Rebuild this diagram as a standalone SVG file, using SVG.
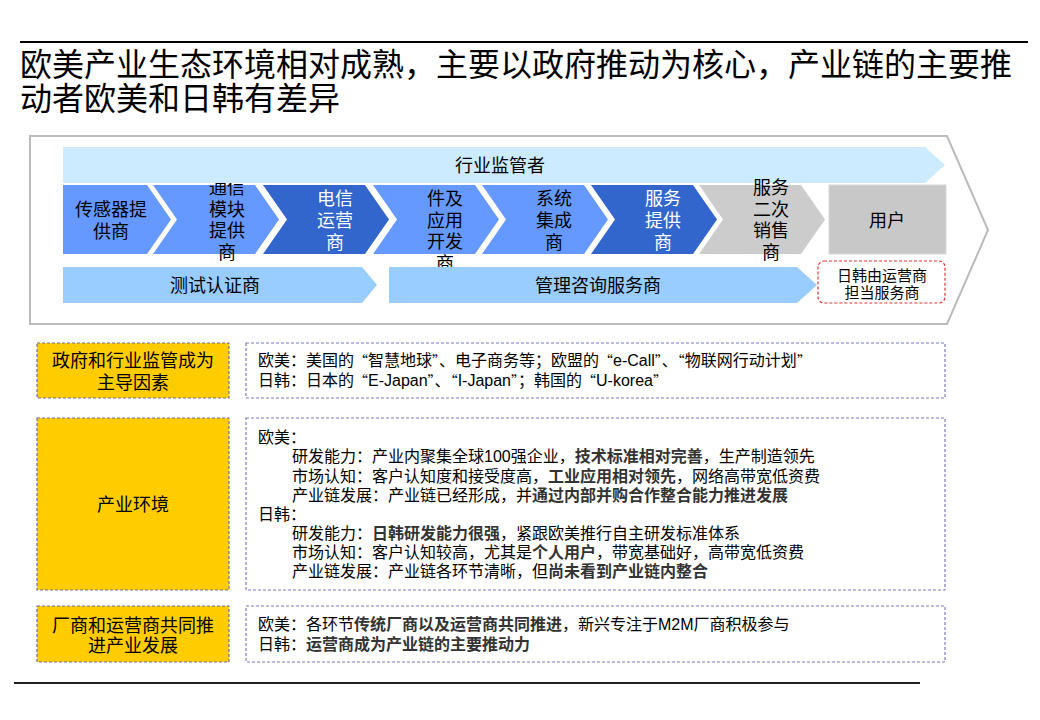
<svg xmlns="http://www.w3.org/2000/svg" width="1040" height="720" viewBox="0 0 1040 720">
<style>
text{font-family:"Liberation Sans","Noto Sans CJK SC",sans-serif;}
.t18{font-size:18px;fill:#000;text-anchor:middle;}
.w18{font-size:18px;fill:#fff;text-anchor:middle;}
.title{font-size:32px;fill:#000;}
.body{font-size:16px;fill:#000;}
.q{font-family:"Noto Sans CJK SC",sans-serif;font-size:14px;}
.b{font-weight:bold;fill:#333;}
.lb{fill:#6699FF;}
.db{fill:#3366CC;}
.gr{fill:#CCCCCC;}
.ban{fill:#99CCFF;}
.yel{fill:#FFCC00;stroke:#6F6FA8;stroke-width:1.2;stroke-dasharray:3,2;}
.box{fill:#fff;stroke:#7B7BC0;stroke-width:1.2;stroke-dasharray:3,2;}
</style>
<rect x="0" y="0" width="1040" height="720" fill="#fff"/>
<g id="title">
<line x1="20" y1="42" x2="1028" y2="42" stroke="#000" stroke-width="2"/>
<text class="title" x="20" y="76">欧美产业生态环境相对成熟，主要以政府推动为核心，产业链的主要推</text>
<text class="title" x="20" y="110">动者欧美和日韩有差异</text>
</g>
<g id="frame">
<polygon points="30,136 947,136 988,230 947,324 30,324" fill="#fff" stroke="#BBBBBB" stroke-width="2"/>
</g>
<g id="connectors"></g>
<g id="n-sensor">
<polygon class="lb" points="63,185 147,185 171,219.5 147,254 63,254"/>
<text class="t18" x="111" y="216">传感器提</text>
<text class="t18" x="111" y="238">供商</text>
</g>
<g id="n-module">
<polygon class="lb" points="153,185 255,185 279,219.5 255,254 153,254 177,219.5"/>
<text class="t18" x="227" y="194">通信</text>
<text class="t18" x="227" y="216">模块</text>
<text class="t18" x="227" y="237">提供</text>
<text class="t18" x="227" y="259">商</text>
</g>
<g id="n-operator">
<polygon class="db" points="263,185 365,185 389,219.5 365,254 263,254 287,219.5"/>
<text class="w18" x="335" y="205">电信</text>
<text class="w18" x="335" y="227">运营</text>
<text class="w18" x="335" y="249">商</text>
</g>
<g id="n-middleware">
<polygon class="lb" points="373,185 475,185 499,219.5 475,254 373,254 397,219.5"/>
<text class="t18" x="445" y="205">件及</text>
<text class="t18" x="445" y="227">应用</text>
<text class="t18" x="445" y="248">开发</text>
<text class="t18" x="445" y="270">商</text>
</g>
<g id="n-integrator">
<polygon class="lb" points="482,185 584,185 608,219.5 584,254 482,254 506,219.5"/>
<text class="t18" x="554" y="205">系统</text>
<text class="t18" x="554" y="227">集成</text>
<text class="t18" x="554" y="249">商</text>
</g>
<g id="n-service">
<polygon class="db" points="591,185 693,185 717,219.5 693,254 591,254 615,219.5"/>
<text class="w18" x="663" y="205">服务</text>
<text class="w18" x="663" y="227">提供</text>
<text class="w18" x="663" y="249">商</text>
</g>
<g id="n-regulator">
<polygon fill="#CCEBFF" points="63,147 925,147 945,165 925,183 63,183"/>
<text class="t18" x="500" y="172">行业监管者</text>
</g>
<g id="n-test">
<polygon class="ban" points="63,267 362,267 377,285 362,303 63,303"/>
<text class="t18" x="215" y="292">测试认证商</text>
</g>
<g id="n-consult">
<polygon class="ban" points="389,267 797,267 817,285 797,303 389,303"/>
<text class="t18" x="598" y="292">管理咨询服务商</text>
</g>
<g id="n-resale">
<polygon class="gr" points="699,185 801,185 825,219.5 801,254 699,254 723,219.5"/>
<text class="t18" x="771" y="194">服务</text>
<text class="t18" x="771" y="216">二次</text>
<text class="t18" x="771" y="237">销售</text>
<text class="t18" x="771" y="259">商</text>
</g>
<g id="n-user">
<rect x="829" y="185" width="117" height="69" fill="#C8C8C8" stroke="#D8D8D8" stroke-width="1"/>
<text class="t18" x="887" y="227">用户</text>
</g>
<g id="n-note">
<rect x="818" y="261" width="127" height="42" rx="6" fill="#fff" stroke="#E53333" stroke-width="1.2" stroke-dasharray="3,2"/>
<text x="882" y="281" style="font-size:15px;text-anchor:middle;fill:#000">日韩由运营商</text>
<text x="882" y="298" style="font-size:15px;text-anchor:middle;fill:#000">担当服务商</text>
</g>
<g id="row1">
<rect class="yel" x="37" y="343" width="192" height="55"/>
<text class="t18" x="133" y="367">政府和行业监管成为</text>
<text class="t18" x="133" y="389">主导因素</text>
<rect class="box" x="246" y="343" width="699" height="55"/>
<text class="body" x="258" y="366">欧美：美国的<tspan class="q">“</tspan>智慧地球<tspan class="q">”</tspan>、电子商务等；欧盟的<tspan class="q">“</tspan>e-Call<tspan class="q">”</tspan>、<tspan class="q">“</tspan>物联网行动计划<tspan class="q">”</tspan></text>
<text class="body" x="258" y="386">日韩：日本的<tspan class="q">“</tspan>E-Japan<tspan class="q">”</tspan>、<tspan class="q">“</tspan>I-Japan<tspan class="q">”</tspan>；韩国的<tspan class="q">“</tspan>U-korea<tspan class="q">”</tspan></text>
</g>
<g id="row2">
<rect class="yel" x="37" y="418" width="192" height="172"/>
<text class="t18" x="133" y="511">产业环境</text>
<rect class="box" x="246" y="418" width="699" height="172"/>
<text class="body" x="258" y="443">欧美：</text>
<text class="body" x="292" y="462">研发能力：产业内聚集全球100强企业，<tspan class="b">技术标准相对完善</tspan>，生产制造领先</text>
<text class="body" x="292" y="482">市场认知：客户认知度和接受度高，<tspan class="b">工业应用相对领先</tspan>，网络高带宽低资费</text>
<text class="body" x="292" y="501">产业链发展：产业链已经形成，并<tspan class="b">通过内部并购合作整合能力推进发展</tspan></text>
<text class="body" x="258" y="520">日韩：</text>
<text class="body" x="292" y="539">研发能力：<tspan class="b">日韩研发能力很强</tspan>，紧跟欧美推行自主研发标准体系</text>
<text class="body" x="292" y="558">市场认知：客户认知较高，尤其是<tspan class="b">个人用户</tspan>，带宽基础好，高带宽低资费</text>
<text class="body" x="292" y="577">产业链发展：产业链各环节清晰，但<tspan class="b">尚未看到产业链内整合</tspan></text>
</g>
<g id="row3">
<rect class="yel" x="37" y="606" width="192" height="56"/>
<text class="t18" x="133" y="632">厂商和运营商共同推</text>
<text class="t18" x="133" y="652">进产业发展</text>
<rect class="box" x="246" y="606" width="699" height="56"/>
<text class="body" x="258" y="630">欧美：各环节<tspan class="b">传统厂商以及运营商共同推进</tspan>，新兴专注于M2M厂商积极参与</text>
<text class="body" x="258" y="650">日韩：<tspan class="b">运营商成为产业链的主要推动力</tspan></text>
</g>
<line x1="14" y1="683" x2="920" y2="683" stroke="#222" stroke-width="2"/>
</svg>
